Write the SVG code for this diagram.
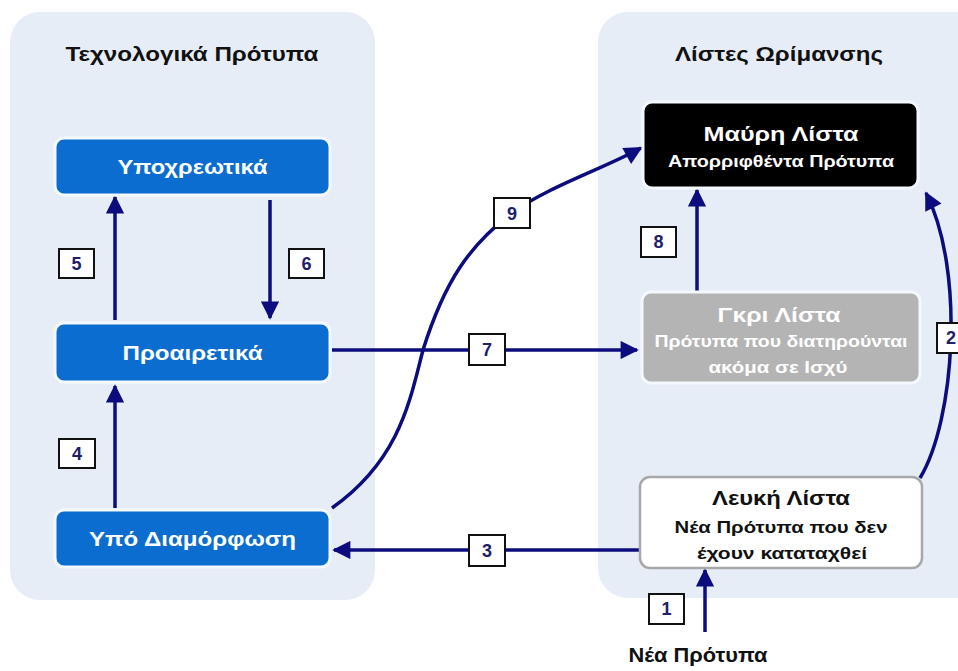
<svg xmlns="http://www.w3.org/2000/svg" width="958" height="671" viewBox="0 0 958 671">
<style>
.panel{fill:#e7edf7}
.blue{fill:#0a6dcf;stroke:#f4f8ff;stroke-width:3}
.t{font-family:"Liberation Sans",Arial,sans-serif;font-weight:bold;text-anchor:middle}
.w{fill:#ffffff}
.k{fill:#111111}
.ttl{font-size:21px;fill:#111111}
.big{font-size:20px}
.sm{font-size:16px}
.conn{fill:none;stroke:#0c0c7e;stroke-width:3.5}
.lb rect{fill:#ffffff;stroke:#111111;stroke-width:2}
.lb text{font-family:"Liberation Sans",Arial,sans-serif;font-weight:bold;font-size:18px;fill:#20206a;text-anchor:middle}
</style>
<defs>
<marker id="ah" viewBox="0 0 10 10" refX="9" refY="5" markerWidth="7" markerHeight="5.2" markerUnits="strokeWidth" orient="auto">
<path d="M0,0 L10,5 L0,10 z" fill="#0c0c7e"/>
</marker>
</defs>
<rect width="958" height="671" fill="#ffffff"/>
<g id="panel-left"><rect class="panel" x="10" y="12" width="365" height="588" rx="30"/>
<text class="t ttl" x="192" y="61" textLength="253" lengthAdjust="spacingAndGlyphs">Τεχνολογικά Πρότυπα</text></g>
<g id="panel-right"><rect class="panel" x="598" y="12" width="400" height="586" rx="30"/>
<text class="t ttl" x="779" y="61" textLength="208" lengthAdjust="spacingAndGlyphs">Λίστες Ωρίμανσης</text></g>

<g id="connectors">
<path class="conn" marker-end="url(#ah)" d="M115,320 L115,197"/>
<path class="conn" marker-end="url(#ah)" d="M270,200 L270,318"/>
<path class="conn" marker-end="url(#ah)" d="M115,508 L115,386"/>
<path class="conn" marker-end="url(#ah)" d="M332,350 L637,350"/>
<path class="conn" marker-end="url(#ah)" d="M640,550 L334,550"/>
<path class="conn" marker-end="url(#ah)" d="M697,292 L697,190"/>
<path class="conn" marker-end="url(#ah)" d="M705,632 L705,570"/>
<path class="conn" marker-end="url(#ah)" d="M332,508 C400,460 410,400 423,350 C445,280 470,245 512,213 C545,188 605,168 641,148"/>
<path class="conn" marker-end="url(#ah)" d="M920,478 C955,420 965,270 926,193"/>
</g>

<g id="node-ypoxreotika"><rect class="blue" x="55" y="138" width="275" height="57" rx="9"/>
<text class="t w big" x="192.5" y="174" textLength="150" lengthAdjust="spacingAndGlyphs">Υποχρεωτικά</text></g>
<g id="node-proairetika"><rect class="blue" x="55" y="323" width="275" height="59" rx="9"/>
<text class="t w big" x="192.5" y="360" textLength="140" lengthAdjust="spacingAndGlyphs">Προαιρετικά</text></g>
<g id="node-ypo-diamorfosi"><rect class="blue" x="55" y="510" width="275" height="57" rx="9"/>
<text class="t w big" x="192.5" y="546" textLength="207" lengthAdjust="spacingAndGlyphs">Υπό Διαμόρφωση</text></g>

<g id="node-mavri"><rect x="643" y="102" width="275" height="86" rx="9" fill="#000000" stroke="#f4f8ff" stroke-width="3"/>
<text class="t w big" x="781" y="141" textLength="155" lengthAdjust="spacingAndGlyphs">Μαύρη Λίστα</text>
<text class="t w sm" x="781" y="167" textLength="226" lengthAdjust="spacingAndGlyphs">Απορριφθέντα Πρότυπα</text></g>
<g id="node-gkri"><rect x="642" y="292" width="278" height="91" rx="9" fill="#b4b4b4" stroke="#f4f8ff" stroke-width="3"/>
<text class="t w big" x="779" y="322" textLength="123" lengthAdjust="spacingAndGlyphs">Γκρι Λίστα</text>
<text class="t w sm" x="781" y="347" textLength="253" lengthAdjust="spacingAndGlyphs">Πρότυπα που διατηρούνται</text>
<text class="t w sm" x="778" y="373" textLength="139" lengthAdjust="spacingAndGlyphs">ακόμα σε Ισχύ</text></g>
<g id="node-lefki"><rect x="640" y="477" width="282" height="91" rx="10" fill="#ffffff" stroke="#a8a8a8" stroke-width="2.5"/>
<text class="t k big" x="781" y="505" textLength="138" lengthAdjust="spacingAndGlyphs">Λευκή Λίστα</text>
<text class="t k sm" x="781" y="533" textLength="213" lengthAdjust="spacingAndGlyphs">Νέα Πρότυπα που δεν</text>
<text class="t k sm" x="782" y="559" textLength="170" lengthAdjust="spacingAndGlyphs">έχουν καταταχθεί</text></g>
<g id="node-nea"><text class="t k big" x="698" y="662" textLength="139" lengthAdjust="spacingAndGlyphs">Νέα Πρότυπα</text></g>

<g id="labels">
<g class="lb"><rect x="59" y="249" width="35" height="29"/><text x="76.5" y="270">5</text></g>
<g class="lb"><rect x="289" y="249" width="35" height="29"/><text x="306.5" y="270">6</text></g>
<g class="lb"><rect x="59" y="439" width="36" height="29"/><text x="77" y="460">4</text></g>
<g class="lb"><rect x="494" y="198" width="36" height="30"/><text x="512" y="220">9</text></g>
<g class="lb"><rect x="469" y="334" width="36" height="31"/><text x="487" y="356">7</text></g>
<g class="lb"><rect x="469" y="535" width="36" height="31"/><text x="487" y="557">3</text></g>
<g class="lb"><rect x="641" y="227" width="35" height="30"/><text x="658.5" y="248">8</text></g>
<g class="lb"><rect x="937" y="323" width="36" height="30"/><text x="951" y="344">2</text></g>
<g class="lb"><rect x="649" y="594" width="35" height="30"/><text x="666.5" y="615">1</text></g>
</g>
</svg>
